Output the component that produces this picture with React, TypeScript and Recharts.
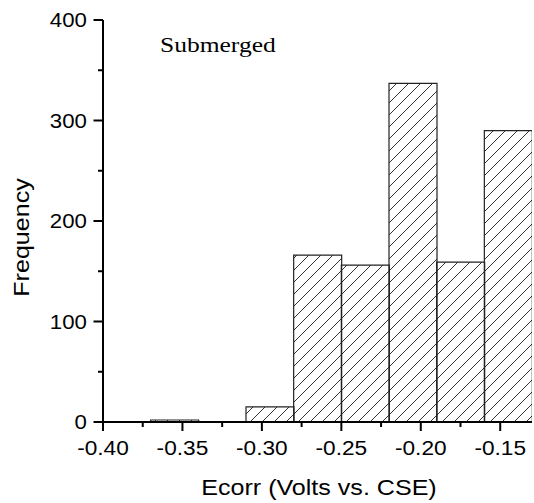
import React from 'react'
import { BarChart, Bar, XAxis, YAxis } from 'recharts'

// histogram bins (width 0.03 V), centres and counts
const binCenters = [-0.355, -0.325, -0.295, -0.265, -0.235, -0.205, -0.175, -0.145]
const counts = [2, 0, 15, 166, 156, 337, 159, 290]

const xMajorTicks = [-0.4, -0.35, -0.3, -0.25, -0.2, -0.15]
const xMinorTicks = [-0.375, -0.325, -0.275, -0.225, -0.175]
const yMajorTicks = [0, 100, 200, 300, 400]
const yMinorTicks = [50, 150, 250, 350]

const data = binCenters.map((center, i) => ({ center, count: counts[i] }))
const xTicks = [...xMajorTicks, ...xMinorTicks].sort((a, b) => a - b)
const yTicks = [...yMajorTicks, ...yMinorTicks].sort((a, b) => a - b)

const SANS = '"Liberation Sans", Arial, sans-serif'
const SERIF = '"Liberation Serif", "Times New Roman", serif'

const isIn = (arr: number[], v: number) => arr.some(t => Math.abs(t - v) < 1e-9)

const XTick = ({ x, y, payload }: any) => {
  const major = isIn(xMajorTicks, payload.value)
  return (
    <g transform={`translate(${x},${y})`}>
      <line x1={0} x2={0} y1={0} y2={major ? 9 : 5} stroke="#000" strokeWidth={2} />
      {major && (
        <text x={0} y={33} textAnchor="middle" fontSize={21} fontFamily={SANS} fill="#000" transform="scale(1.08,1)">
          {payload.value.toFixed(2)}
        </text>
      )}
    </g>
  )
}

const YTick = ({ x, y, payload }: any) => {
  const major = isIn(yMajorTicks, payload.value)
  return (
    <g transform={`translate(${x},${y})`}>
      <line x1={0} x2={major ? -9.5 : -5} y1={0} y2={0} stroke="#000" strokeWidth={2} />
      {major && (
        <g transform="translate(-16,7)">
          <text x={0} y={0} textAnchor="end" fontSize={21} fontFamily={SANS} fill="#000" transform="scale(1.06,1)">
            {payload.value}
          </text>
        </g>
      )}
    </g>
  )
}

const App = () => {
  return (
    <div style={{ position: 'absolute', left: 0, top: 0, background: '#fff' }}>
      <BarChart width={534} height={503} data={data} barCategoryGap={0}
        margin={{ top: 20, right: 2, bottom: 0, left: 0 }}>
        <defs>
          <pattern id="hatch" patternUnits="userSpaceOnUse" width={12} height={12}>
            <path d="M0,12 L12,0 M-3,3 L3,-3 M9,15 L15,9" stroke="#000" strokeWidth={0.8} />
          </pattern>
        </defs>
        <XAxis dataKey="center" type="number" domain={[-0.4, -0.13]} ticks={xTicks} interval={0}
          allowDataOverflow height={81} tickSize={0} tickMargin={0} tickLine={false}
          axisLine={{ stroke: '#000', strokeWidth: 2 }} tick={<XTick />} />
        <XAxis xAxisId="top" orientation="top" dataKey="center" type="number" domain={[-0.4, -0.13]}
          allowDataOverflow height={0} tick={false} tickLine={false}
          axisLine={{ stroke: '#000', strokeWidth: 2 }} />
        <YAxis type="number" domain={[0, 400]} ticks={yTicks} interval={0} width={103}
          tickSize={0} tickMargin={0} tickLine={false}
          axisLine={{ stroke: '#000', strokeWidth: 2 }} tick={<YTick />} />
        <Bar dataKey="count" fill="url(#hatch)" stroke="#222" strokeWidth={1.2} isAnimationActive={false} />
        <g transform="translate(160,52)">
          <text fontSize={22} fontFamily={SERIF} fill="#000" transform="scale(1.16,1)">Submerged</text>
        </g>
        <g transform="translate(319,495)">
          <text textAnchor="middle" fontSize={22} fontFamily={SANS} fill="#000" transform="scale(1.14,1)">
            Ecorr (Volts vs. CSE)
          </text>
        </g>
        <g transform="translate(29,237.5) rotate(-90)">
          <text textAnchor="middle" fontSize={22} fontFamily={SANS} fill="#000" transform="scale(1.14,1)">
            Frequency
          </text>
        </g>
      </BarChart>
    </div>
  )
}

export default App
